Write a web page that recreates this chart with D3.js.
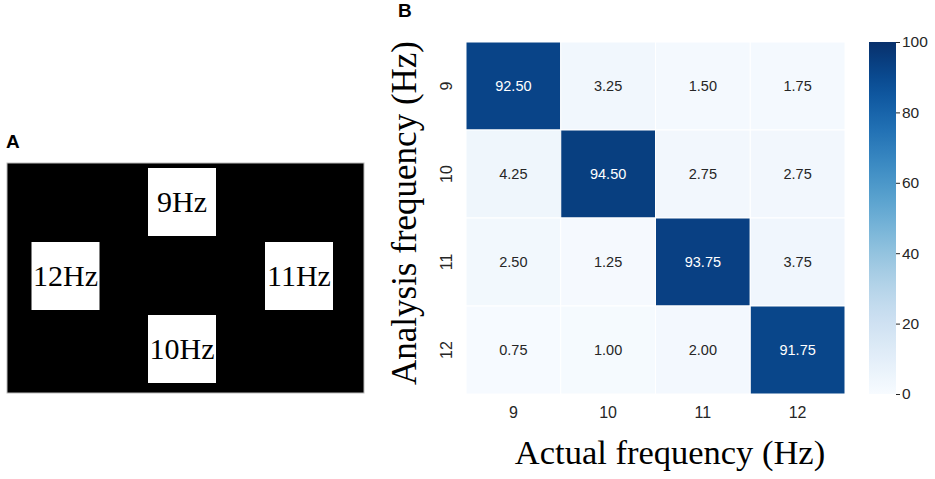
<!DOCTYPE html>
<html><head><meta charset="utf-8">
<script src="https://cdn.jsdelivr.net/npm/d3@7"></script>
<style>body{margin:0;background:#fff}svg{display:block}</style>
</head><body>
<svg id="c" width="935" height="479"></svg>
<script>
// Panel A: stimulus layout
const stimLabels = ["9Hz", "12Hz", "11Hz", "10Hz"];
const stimCol = [1, 0, 2, 1];   // grid column of each stimulus
const stimRow = [0, 1, 1, 2];   // grid row of each stimulus

// Panel B: confusion matrix
const actualFreq = ["9", "10", "11", "12"];
const analysisFreq = ["9", "10", "11", "12"];
const row9  = [92.50, 3.25, 1.50, 1.75];
const row10 = [4.25, 94.50, 2.75, 2.75];
const row11 = [2.50, 1.25, 93.75, 3.75];
const row12 = [0.75, 1.00, 2.00, 91.75];
const matrix = [row9, row10, row11, row12];
const colorbarTicks = [0, 20, 40, 60, 80, 100];

const svg = d3.select("#c");

// ---------- Panel A ----------
svg.append("text").attr("x", 6).attr("y", 148).text("A")
  .attr("font-family", "Liberation Sans, Arial, sans-serif").attr("font-weight", "bold").attr("font-size", 19);

svg.append("rect").attr("x", 7).attr("y", 163).attr("width", 357).attr("height", 230)
  .attr("fill", "#000").attr("stroke", "#bbb").attr("stroke-width", 1);

const ax = d3.scaleLinear().domain([0, 1, 2]).range([65.5, 182, 299]);
const ay = d3.scaleLinear().domain([0, 1, 2]).range([202, 276, 349]);
const sq = 68;
const ga = svg.append("g");
stimLabels.forEach((lab, i) => {
  const cx = ax(stimCol[i]), cy = ay(stimRow[i]);
  ga.append("rect").attr("x", cx - sq / 2).attr("y", cy - sq / 2).attr("width", sq).attr("height", sq).attr("fill", "#fff");
  ga.append("text").attr("x", cx).attr("y", cy + 10).attr("text-anchor", "middle")
    .attr("font-family", "Liberation Serif, Times New Roman, serif").attr("font-size", 30).text(lab);
});

// ---------- Panel B ----------
svg.append("text").attr("x", 398).attr("y", 17).text("B")
  .attr("font-family", "Liberation Sans, Arial, sans-serif").attr("font-weight", "bold").attr("font-size", 19);

const x = d3.scaleBand().domain(actualFreq).range([466, 845]);
const y = d3.scaleBand().domain(analysisFreq).range([42, 394]);
const color = d3.scaleSequential(d3.interpolateBlues).domain([0, 100]);

const cells = [];
matrix.forEach((r, i) => r.forEach((v, j) => cells.push({ r: analysisFreq[i], c: actualFreq[j], v })));

svg.append("g").selectAll("rect").data(cells).join("rect")
  .attr("x", d => x(d.c)).attr("y", d => y(d.r))
  .attr("width", x.bandwidth()).attr("height", y.bandwidth())
  .attr("fill", d => color(d.v)).attr("stroke", "#fff").attr("stroke-width", 1);

svg.append("g").selectAll("text").data(cells).join("text")
  .attr("x", d => x(d.c) + x.bandwidth() / 2).attr("y", d => y(d.r) + y.bandwidth() / 2)
  .attr("dy", "0.36em").attr("text-anchor", "middle")
  .attr("font-family", "Liberation Sans, Arial, sans-serif").attr("font-size", 14.5)
  .attr("fill", d => d.v > 50 ? "#fff" : "#262626")
  .text(d => d.v.toFixed(2));

// x tick labels
svg.append("g").selectAll("text").data(actualFreq).join("text")
  .attr("x", d => x(d) + x.bandwidth() / 2).attr("y", 418)
  .attr("text-anchor", "middle").attr("font-family", "Liberation Sans, Arial, sans-serif")
  .attr("font-size", 16).attr("fill", "#262626").text(d => d);

// y tick labels (rotated)
svg.append("g").selectAll("text").data(analysisFreq).join("text")
  .attr("transform", d => `translate(452,${y(d) + y.bandwidth() / 2}) rotate(-90)`)
  .attr("text-anchor", "middle").attr("font-family", "Liberation Sans, Arial, sans-serif")
  .attr("font-size", 16).attr("fill", "#262626").text(d => d);

// axis titles
svg.append("text").attr("x", 670).attr("y", 464).attr("text-anchor", "middle")
  .attr("font-family", "Liberation Serif, Times New Roman, serif").attr("font-size", 34.5).text("Actual frequency (Hz)");
svg.append("text").attr("transform", "translate(416,213) rotate(-90)").attr("text-anchor", "middle")
  .attr("font-family", "Liberation Serif, Times New Roman, serif").attr("font-size", 35).text("Analysis frequency (Hz)");

// colorbar
const defs = svg.append("defs");
const grad = defs.append("linearGradient").attr("id", "cb").attr("x1", 0).attr("y1", 1).attr("x2", 0).attr("y2", 0);
d3.range(0, 1.0001, 0.05).forEach(t => grad.append("stop").attr("offset", t).attr("stop-color", d3.interpolateBlues(t)));
const cy = d3.scaleLinear().domain([0, 100]).range([394, 42]);
svg.append("rect").attr("x", 869).attr("y", 42).attr("width", 27).attr("height", 352).attr("fill", "url(#cb)");
const cbAxis = svg.append("g").attr("transform", "translate(896,0)")
  .call(d3.axisRight(cy).tickValues(colorbarTicks).tickSize(4).tickPadding(2));
cbAxis.select(".domain").remove();
cbAxis.selectAll("line").attr("stroke", "#262626");
cbAxis.selectAll("text").attr("font-family", "Liberation Sans, Arial, sans-serif").attr("font-size", 15.5).attr("fill", "#262626");
</script>
</body></html>
